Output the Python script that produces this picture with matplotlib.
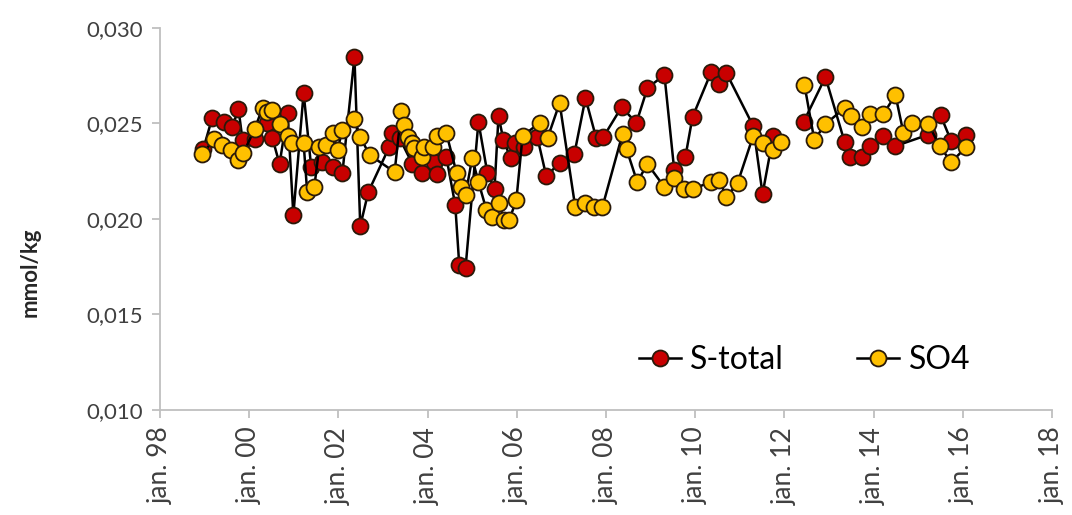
import numpy as np
import matplotlib
matplotlib.use("Agg")
import matplotlib.pyplot as plt

plt.rcParams['font.family'] = ['Lato', 'DejaVu Sans']

# S-total (decimal year, mmol/kg); NaN marks the gap in the record
s_years = [1998.97, 1999.17, 1999.44, 1999.62, 1999.76, 1999.85, 2000.14, 2000.39, 2000.52, 2000.68,
           2000.86, 2000.99, 2001.22, 2001.39, 2001.64, 2001.87, 2002.09, 2002.36, 2002.49, 2002.67,
           2003.14, 2003.21, 2003.37, 2003.66, 2003.88, 2004.15, 2004.22, 2004.42, 2004.62, 2004.71,
           2004.85, 2005.14, 2005.34, 2005.50, 2005.59, 2005.70, 2005.86, 2005.95, 2006.17, 2006.46,
           2006.66, 2006.96, 2007.29, 2007.54, 2007.78, 2007.94, 2008.35, 2008.68, 2008.93, 2009.31,
           2009.53, 2009.78, 2009.94, 2010.36, 2010.54, 2010.70, 2011.30, 2011.51, 2011.75, 2012.10,
           2012.43, 2012.92, 2013.35, 2013.48, 2013.75, 2013.93, 2014.22, 2014.49, 2015.21, 2015.50,
           2015.74, 2016.08]
s_total = [0.02366, 0.02529, 0.02508, 0.02482, 0.02576, 0.02414, 0.02419, 0.02503, 0.02424, 0.02288,
           0.02555, 0.02021, 0.02660, 0.02272, 0.02298, 0.02272, 0.02241, 0.02848, 0.01963, 0.02141,
           0.02377, 0.02450, 0.02424, 0.02288, 0.02241, 0.02298, 0.02236, 0.02325, 0.02073, 0.01759,
           0.01743, 0.02508, 0.02241, 0.02157, 0.02539, 0.02414, 0.02319, 0.02398, 0.02377, 0.02429,
           0.02225, 0.02293, 0.02340, 0.02633, 0.02424, 0.02429, 0.02586, 0.02503, 0.02686, 0.02754,
           0.02256, 0.02325, 0.02534, 0.02770, 0.02707, 0.02764, 0.02487, 0.02131, 0.02435, np.nan,
           0.02508, 0.02743, 0.02403, 0.02325, 0.02325, 0.02382, 0.02435, 0.02382, 0.02440, 0.02544,
           0.02408, 0.02440]

# SO4 (decimal year, mmol/kg)
so4_years = [1998.95, 1999.22, 1999.40, 1999.60, 1999.74, 1999.87, 2000.12, 2000.30, 2000.39, 2000.52,
             2000.68, 2000.86, 2000.97, 2001.22, 2001.30, 2001.46, 2001.57, 2001.73, 2001.87, 2001.98,
             2002.09, 2002.36, 2002.49, 2002.70, 2003.26, 2003.41, 2003.48, 2003.55, 2003.64, 2003.70,
             2003.88, 2003.93, 2004.11, 2004.20, 2004.42, 2004.65, 2004.76, 2004.85, 2005.00, 2005.14,
             2005.32, 2005.45, 2005.59, 2005.72, 2005.83, 2005.99, 2006.13, 2006.51, 2006.69, 2006.96,
             2007.31, 2007.52, 2007.74, 2007.92, 2008.37, 2008.46, 2008.70, 2008.93, 2009.31, 2009.53,
             2009.76, 2009.94, 2010.36, 2010.54, 2010.70, 2010.95, 2011.30, 2011.51, 2011.75, 2011.93,
             2012.20, 2012.45, 2012.67, 2012.92, 2013.35, 2013.50, 2013.75, 2013.93, 2014.22, 2014.49,
             2014.67, 2014.87, 2015.23, 2015.48, 2015.74, 2016.08]
so4 = [0.02340, 0.02419, 0.02387, 0.02361, 0.02309, 0.02345, 0.02471, 0.02581, 0.02560, 0.02571,
       0.02497, 0.02435, 0.02398, 0.02398, 0.02141, 0.02167, 0.02377, 0.02387, 0.02450, 0.02361,
       0.02466, 0.02524, 0.02429, 0.02335, 0.02246, 0.02565, 0.02492, 0.02429, 0.02398, 0.02372,
       0.02325, 0.02377, 0.02377, 0.02435, 0.02450, 0.02241, 0.02167, 0.02126, 0.02319, 0.02194,
       0.02047, 0.02010, 0.02084, 0.01995, 0.01995, 0.02099, 0.02435, 0.02503, 0.02424, 0.02607,
       0.02063, 0.02084, 0.02063, 0.02063, 0.02445, 0.02366, 0.02194, 0.02288, 0.02167, 0.02215,
       0.02157, 0.02157, 0.02194, 0.02204, 0.02115, 0.02188, 0.02435, 0.02398, 0.02361, 0.02403,
       np.nan, 0.02702, 0.02414, 0.02497, 0.02581, 0.02539, 0.02482, 0.02550, 0.02550, 0.02649,
       0.02450, 0.02503, 0.02497, 0.02382, 0.02298, 0.02377]

tick_years = [1998, 2000, 2002, 2004, 2006, 2008, 2010, 2012, 2014, 2016, 2018]
tick_labels = ['jan. 98', 'jan. 00', 'jan. 02', 'jan. 04', 'jan. 06', 'jan. 08',
               'jan. 10', 'jan. 12', 'jan. 14', 'jan. 16', 'jan. 18']
y_ticks = [0.010, 0.015, 0.020, 0.025, 0.030]
y_labels = ['0,010', '0,015', '0,020', '0,025', '0,030']

fig = plt.figure(figsize=(10.72, 5.15), dpi=100)
ax = fig.add_axes([160 / 1072, 1 - 410 / 515, 892 / 1072, 382 / 515])

edge = '#2a1a0a'
ax.plot(s_years, s_total, color='black', lw=1.8, marker='o', ms=11.5,
        mfc='#c80000', mec=edge, mew=1.3, label='S-total', zorder=3)
ax.plot(so4_years, so4, color='black', lw=1.8, marker='o', ms=11.5,
        mfc='#ffc000', mec=edge, mew=1.3, label='SO4', zorder=4)

ax.set_xlim(1998, 2018)
ax.set_ylim(0.010, 0.030)
ax.set_xticks(tick_years)
ax.set_xticklabels(tick_labels, rotation=90, fontsize=19, color='#404040')
ax.set_yticks(y_ticks)
ax.set_yticklabels(y_labels, fontsize=16, color='#404040')

for side in ('top', 'right'):
    ax.spines[side].set_visible(False)
for side in ('left', 'bottom'):
    ax.spines[side].set_color('#bfbfbf')
    ax.spines[side].set_linewidth(1.3)
ax.tick_params(axis='both', color='#bfbfbf', width=1.3, length=6, direction='out')
ax.tick_params(axis='x', pad=6)
ax.tick_params(axis='y', pad=6)

fig.text(30 / 1072, 1 - 272 / 515, 'mmol/kg', rotation=90, ha='center', va='center',
         fontsize=16, fontweight='bold', color='#262626')

ax.legend(loc='center left', bbox_to_anchor=(0.537, 0.13), ncol=2, frameon=False,
          fontsize=23, handlelength=1.3, columnspacing=2.3, handletextpad=0.3,
          borderpad=0, borderaxespad=0)

fig.savefig('out.png', dpi=100)
